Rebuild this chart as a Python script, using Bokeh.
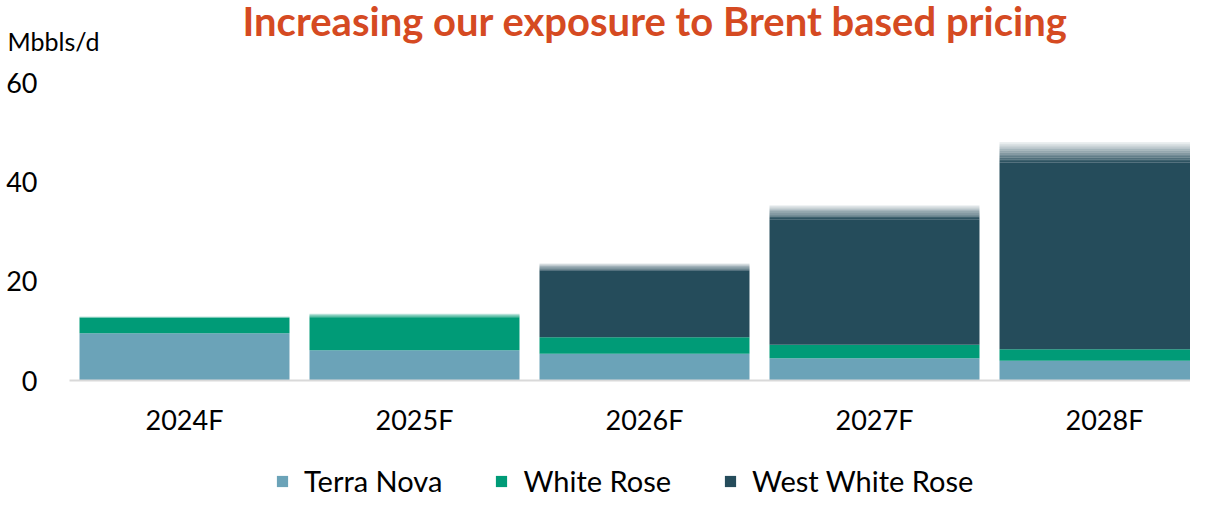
import numpy as np
from bokeh.plotting import figure
from bokeh.layouts import column
from bokeh.models import Range1d, FixedTicker, Legend, LegendItem, Title
from bokeh.embed import file_html
from bokeh.resources import INLINE

# ---- data ----
categories = ["2024F", "2025F", "2026F", "2027F", "2028F"]
terra_nova = [9.5, 6.1, 5.4, 4.5, 4.0]
white_rose = [3.4, 7.4, 3.3, 2.7, 2.3]
west_white_rose = [0.0, 0.0, 14.9, 28.1, 41.7]
series_names = ["Terra Nova", "White Rose", "West White Rose"]
colors = ["#6BA3B8", "#009B77", "#254C5B"]
y_ticks = [0, 20, 40, 60]
title_text = "Increasing our exposure to Brent based pricing"
unit_text = "Mbbls/d"

FONT = "Lato"
FW, FH = 1121, 298
W = 1190


def no_align(fig):
    try:
        fig.frame_align = False
    except Exception:
        pass


xs = np.arange(len(categories)) + 0.5
vals = np.array([terra_nova, white_rose, west_white_rose], dtype=float)
tops = np.cumsum(vals, axis=0)
bottoms = tops - vals

p = figure(frame_width=FW, frame_height=FH, output_backend="svg", toolbar_location=None,
           x_range=Range1d(0, FW / 230), y_range=Range1d(0, 60),
           min_border_left=69, min_border_right=0, min_border_top=79,
           min_border_bottom=70)
no_align(p)
p.outline_line_color = None
p.xgrid.grid_line_color = None
p.ygrid.grid_line_color = None

BW = 0.913
top_idx = [max(i for i in range(3) if vals[i, j] > 0) for j in range(len(categories))]

for i in range(3):
    solid_top = tops[i].copy()
    for j in range(len(categories)):
        if top_idx[j] == i:
            solid_top[j] = tops[i, j] - 0.1 * vals[i, j]
    p.vbar(x=xs, bottom=bottoms[i], top=solid_top, width=BW,
           fill_color=colors[i], line_color=None)
    mask = np.array([top_idx[j] == i for j in range(len(categories))])
    if mask.any():
        NSTEP = 12
        for k in range(NSTEP):
            f0 = k / NSTEP
            f1 = (k + 1) / NSTEP
            b = solid_top[mask] + f0 * 0.1 * vals[i, mask]
            t = solid_top[mask] + f1 * 0.1 * vals[i, mask]
            a = 1.0 - (k + 0.5) / NSTEP * 0.95
            p.vbar(x=xs[mask], bottom=b, top=t, width=BW,
                   fill_color=colors[i], fill_alpha=a, line_color=None)

p.xaxis.ticker = FixedTicker(ticks=list(xs))
p.xaxis.major_label_overrides = {float(x): c for x, c in zip(xs, categories)}
p.xaxis.axis_line_color = "#D9D9D9"
p.xaxis.axis_line_width = 2
p.xaxis.major_tick_out = 0
p.xaxis.major_tick_in = 0
p.xaxis.minor_tick_out = 0
p.xaxis.minor_tick_in = 0
p.xaxis.major_label_text_font = FONT
p.xaxis.major_label_text_font_size = "27px"
p.xaxis.major_label_text_color = "black"
p.xaxis.major_label_standoff = 22

p.yaxis.ticker = FixedTicker(ticks=y_ticks)
p.yaxis.axis_line_color = None
p.yaxis.major_tick_out = 0
p.yaxis.major_tick_in = 0
p.yaxis.minor_tick_out = 0
p.yaxis.minor_tick_in = 0
p.yaxis.major_label_text_font = FONT
p.yaxis.major_label_text_font_size = "27px"
p.yaxis.major_label_text_color = "black"
p.yaxis.major_label_standoff = 32

# ---- titles in the top panel (first = nearest to the plot frame) ----
filler = Title(text=" ", text_font_size="1px", standoff=36)
unit_title = Title(text=unit_text, align="left", offset=-62, vertical_align="top",
                   text_font=FONT, text_font_size="25px", text_font_style="normal",
                   text_color="black", standoff=-35)
main_title = Title(text=title_text, align="left", offset=173, vertical_align="top",
                   text_font=FONT, text_font_size="40px", text_font_style="bold",
                   text_color="#D54A22", standoff=-7)
p.add_layout(filler, "above")
p.add_layout(unit_title, "above")
p.add_layout(main_title, "above")

# ---- footer holding the legend ----
foot = figure(width=W, height=48, output_backend="svg", toolbar_location=None,
              x_range=Range1d(0, 1), y_range=Range1d(1000, 1001),
              x_axis_type=None, y_axis_type=None, min_border=0)
no_align(foot)
foot.outline_line_color = None
foot.xgrid.grid_line_color = None
foot.ygrid.grid_line_color = None
# same series drawn off-range: only their legend swatches are visible
swatches = [foot.vbar(x=xs, top=vals[i], width=BW, fill_color=colors[i], line_color=None)
            for i in range(3)]
legend = Legend(items=[LegendItem(label=series_names[i], renderers=[swatches[i]]) for i in range(3)],
                orientation="horizontal", location=(275, 0),
                label_text_font=FONT, label_text_font_size="29px",
                label_text_color="black",
                glyph_width=14, glyph_height=14, label_standoff=15, spacing=52,
                padding=0, margin=0, border_line_color=None,
                background_fill_alpha=0)
foot.add_layout(legend, "center")

layout = column(p, foot, spacing=0)
open("out.html", "w").write(file_html(layout, INLINE))
